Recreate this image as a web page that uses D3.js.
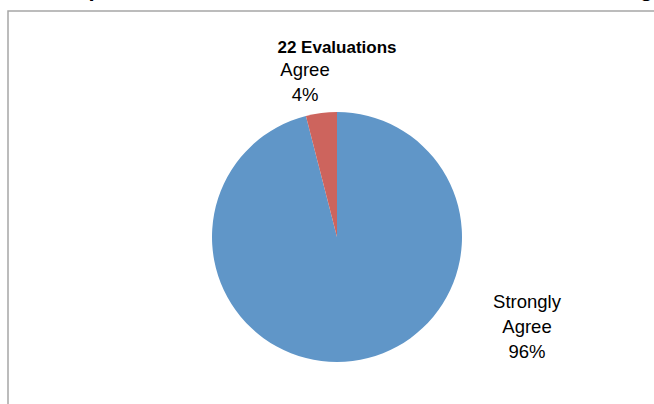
<!DOCTYPE html>
<html>
<head>
<meta charset="utf-8">
<script src="https://cdn.jsdelivr.net/npm/d3@7"></script>
<style>
  html, body { margin: 0; padding: 0; background: #fff; }
  svg { display: block; }
</style>
</head>
<body>
<svg id="chart" width="654" height="404"></svg>
<script>
const categories = ["Strongly Agree", "Agree"];
const values = [96, 4];
const labelLines = [["Strongly", "Agree", "96%"], ["Agree", "4%"]];
const colors = ["#6096c8", "#cd645d"];
const chartTitle = "22 Evaluations";
const pageTitle = "Participation in all sessions of the conference was encouraged";

const svg = d3.select("#chart");
const W = 654, H = 404;
const font = "'Liberation Sans', Arial, sans-serif";

// cropped page heading (only bottoms of glyphs visible)
svg.append("text")
  .attr("x", 350).attr("y", -4)
  .attr("text-anchor", "middle")
  .attr("font-family", font).attr("font-weight", "bold")
  .attr("font-size", 22)
  .attr("fill", "#000")
  .text(pageTitle);

// chart frame
svg.append("rect")
  .attr("x", 8).attr("y", 11)
  .attr("width", W + 10).attr("height", H + 10)
  .attr("fill", "#fff")
  .attr("stroke", "#a6a6a6").attr("stroke-width", 1.5);

svg.append("text")
  .attr("x", 337).attr("y", 53)
  .attr("text-anchor", "middle")
  .attr("font-family", font).attr("font-weight", "bold")
  .attr("font-size", 17)
  .attr("fill", "#000")
  .text(chartTitle);

const cx = 337, cy = 237, r = 125;
const data = categories.map((c, i) => ({ cat: c, value: values[i], i }));
const pie = d3.pie().sort(null).value(d => d.value);
const arc = d3.arc().innerRadius(0).outerRadius(r);
const arcs = pie(data);

const g = svg.append("g").attr("transform", `translate(${cx},${cy})`);
g.selectAll("path").data(arcs).join("path")
  .attr("d", arc)
  .attr("fill", d => colors[d.data.i]);

// labels outside the pie
const labelPos = [[527, 308], [305, 76]];
arcs.forEach((a, i) => {
  const lines = labelLines[i];
  const t = svg.append("text")
    .attr("text-anchor", "middle")
    .attr("font-family", font)
    .attr("font-size", 18.5)
    .attr("fill", "#000");
  lines.forEach((ln, k) => {
    t.append("tspan")
      .attr("x", labelPos[i][0])
      .attr("y", labelPos[i][1] + k * 25)
      .text(ln);
  });
});
</script>
</body>
</html>
